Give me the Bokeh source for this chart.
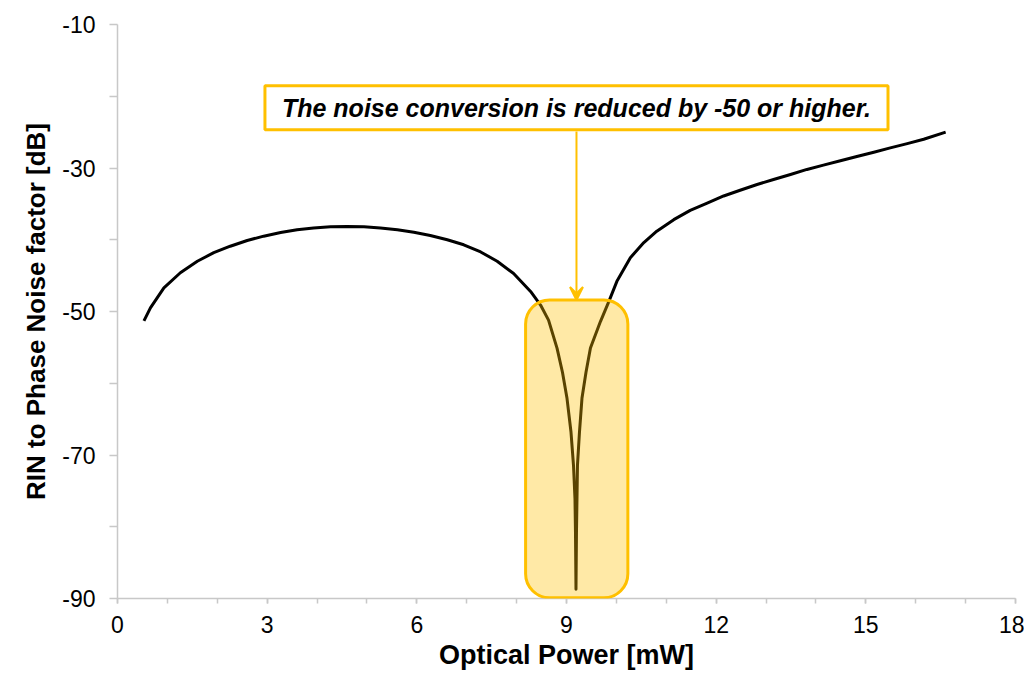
from bokeh.plotting import figure
from bokeh.models import FixedTicker, Label, Arrow, VeeHead, BoxAnnotation, Range1d
from bokeh.embed import file_html
from bokeh.resources import INLINE

# ---- data ----
power_mw = [0.53, 0.66, 0.93, 1.26, 1.60, 1.93, 2.26, 2.60, 2.93, 3.27, 3.60, 3.93,
            4.27, 4.60, 4.94, 5.27, 5.61, 5.94, 6.27, 6.61, 6.94, 7.28, 7.61, 7.94,
            8.28, 8.48, 8.64, 8.81, 8.92, 9.01, 9.09, 9.14, 9.17, 9.18, 9.19,
            9.20, 9.21, 9.22, 9.26, 9.31, 9.39, 9.48, 9.68, 9.85, 10.01, 10.28,
            10.55, 10.81, 11.15, 11.48, 11.82, 12.15, 12.48, 12.82, 13.15, 13.49,
            13.82, 14.15, 14.49, 14.82, 15.16, 15.49, 15.83, 16.16, 16.60]
rin_db = [-51.3, -49.5, -46.7, -44.6, -43.0, -41.8, -40.9, -40.1, -39.5, -39.0, -38.6, -38.35,
          -38.2, -38.15, -38.2, -38.35, -38.6, -38.95, -39.4, -40.0, -40.7, -41.7, -43.0, -44.7,
          -47.2, -49.1, -51.2, -55.1, -58.5, -62.1, -66.8, -71.4, -76.1, -80.8, -88.7,
          -80.8, -76.1, -71.4, -66.8, -62.1, -58.5, -55.1, -51.4, -48.6, -45.8, -42.5,
          -40.4, -38.8, -37.2, -35.9, -34.9, -33.9, -33.1, -32.3, -31.6, -30.9,
          -30.2, -29.6, -29.0, -28.4, -27.8, -27.2, -26.6, -26.0, -25.0]

x_ticks = [0, 3, 6, 9, 12, 15, 18]
x_minor = list(range(0, 19))
y_ticks = [-90, -70, -50, -30, -10]
y_minor = [-80, -60, -40, -20]

note_text = "The noise conversion is reduced by -50 or higher."
dip_x = 9.2
dip_left, dip_right, dip_top, dip_bottom = 8.18, 10.23, -48.4, -89.9
note_y = -21.6
arrow_start_y = -24.9

GOLD = "#FFC000"
FONT = "Liberation Sans"

p = figure(width=1024, height=672, output_backend="svg", toolbar_location=None,
           x_range=Range1d(0, 18), y_range=Range1d(-90, -10),
           min_border_left=117, min_border_top=24, min_border_right=9, min_border_bottom=71)
p.outline_line_color = None
p.grid.visible = False
p.background_fill_color = "white"
p.border_fill_color = "white"

p.line(power_mw, rin_db, line_color="black", line_width=3, line_join="round")

for ax in (p.xaxis[0], p.yaxis[0]):
    ax.axis_line_color = "#c8c8c8"
    ax.axis_line_width = 1.5
    ax.major_tick_line_color = "#c8c8c8"
    ax.minor_tick_line_color = "#c8c8c8"
    ax.major_tick_line_width = 1.5
    ax.minor_tick_line_width = 1.5
    ax.major_tick_in = 0
    ax.minor_tick_in = 0
    ax.major_label_text_font = FONT
    ax.major_label_text_font_size = "23px"
    ax.major_label_text_color = "black"
    ax.axis_label_text_font = FONT
    ax.axis_label_text_font_style = "bold"
    ax.axis_label_text_color = "black"

p.xaxis.ticker = FixedTicker(ticks=x_ticks, minor_ticks=x_minor)
p.yaxis.ticker = FixedTicker(ticks=y_ticks, minor_ticks=y_minor)
p.xaxis.major_label_overrides = {t: str(t) for t in x_ticks}
p.yaxis.major_label_overrides = {t: str(t) for t in y_ticks}
p.xaxis.major_tick_out = 5
p.xaxis.minor_tick_out = 5
p.yaxis.major_tick_out = 8
p.yaxis.minor_tick_out = 8
p.xaxis.major_label_standoff = 12
p.yaxis.major_label_standoff = 14
p.xaxis.axis_label = "Optical Power [mW]"
p.yaxis.axis_label = "RIN to Phase Noise factor [dB]"
p.xaxis.axis_label_text_font_size = "27px"
p.yaxis.axis_label_text_font_size = "26px"
p.xaxis.axis_label_standoff = 4
p.yaxis.axis_label_standoff = 8

box = BoxAnnotation(left=dip_left, right=dip_right, top=dip_top, bottom=dip_bottom,
                    fill_color=GOLD, fill_alpha=0.35, line_color=GOLD, line_alpha=1.0,
                    line_width=3, border_radius=24)
p.add_layout(box)

p.add_layout(Arrow(end=VeeHead(size=13, line_color=GOLD, fill_color=GOLD, line_width=2),
                   x_start=dip_x, y_start=arrow_start_y, x_end=dip_x, y_end=dip_top,
                   line_color=GOLD, line_width=2))

note = Label(x=dip_x, y=note_y, text=note_text, text_align="center", text_baseline="middle",
             text_font=FONT, text_font_style="bold italic", text_font_size="25px",
             text_color="black", background_fill_color="white",
             border_line_color=GOLD, border_line_width=3, padding=(17, 8))
p.add_layout(note)

open("out.html", "w").write(file_html(p, INLINE))
